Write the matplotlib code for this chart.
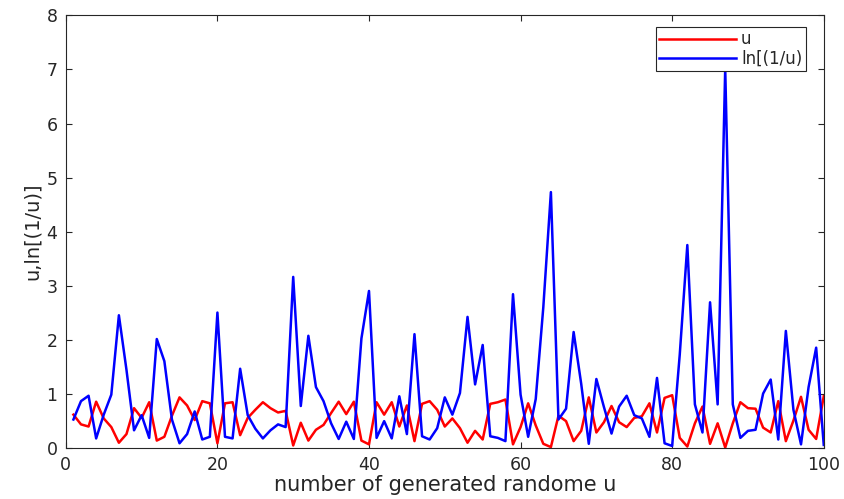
import matplotlib
matplotlib.use("Agg")
import matplotlib.pyplot as plt
import numpy as np

# index of each generated number
n = np.arange(1, 101)

# u values
u = [0.61, 0.43, 0.39, 0.85, 0.54, 0.38, 0.09, 0.25, 0.73, 0.55,
     0.84, 0.13, 0.20, 0.59, 0.93, 0.78, 0.51, 0.86, 0.82, 0.08,
     0.82, 0.84, 0.23, 0.55, 0.70, 0.84, 0.73, 0.65, 0.68, 0.04,
     0.46, 0.13, 0.33, 0.42, 0.64, 0.85, 0.62, 0.85, 0.13, 0.06,
     0.84, 0.61, 0.84, 0.39, 0.78, 0.12, 0.81, 0.86, 0.70, 0.39,
     0.54, 0.36, 0.09, 0.31, 0.15, 0.81, 0.84, 0.89, 0.06, 0.38,
     0.82, 0.41, 0.07, 0.01, 0.59, 0.49, 0.12, 0.31, 0.93, 0.28,
     0.47, 0.77, 0.47, 0.38, 0.55, 0.58, 0.82, 0.28, 0.92, 0.97,
     0.18, 0.02, 0.45, 0.76, 0.07, 0.45, 0.001, 0.45, 0.84, 0.73,
     0.72, 0.37, 0.28, 0.86, 0.12, 0.50, 0.94, 0.33, 0.16, 0.95]

# ln(1/u) values
lnu = [0.52, 0.86, 0.96, 0.17, 0.61, 0.98, 2.45, 1.44, 0.32, 0.60,
       0.18, 2.01, 1.60, 0.52, 0.08, 0.25, 0.67, 0.15, 0.20, 2.50,
       0.20, 0.17, 1.46, 0.60, 0.35, 0.17, 0.32, 0.43, 0.38, 3.16,
       0.77, 2.07, 1.12, 0.86, 0.45, 0.16, 0.48, 0.16, 2.02, 2.90,
       0.18, 0.49, 0.17, 0.95, 0.25, 2.10, 0.21, 0.15, 0.36, 0.93,
       0.61, 1.01, 2.42, 1.17, 1.90, 0.21, 0.18, 0.12, 2.84, 0.98,
       0.20, 0.90, 2.60, 4.73, 0.52, 0.72, 2.14, 1.18, 0.07, 1.27,
       0.75, 0.26, 0.76, 0.96, 0.60, 0.54, 0.20, 1.29, 0.08, 0.03,
       1.72, 3.75, 0.80, 0.28, 2.69, 0.80, 7.02, 0.80, 0.18, 0.31,
       0.33, 1.00, 1.26, 0.15, 2.16, 0.70, 0.06, 1.12, 1.85, 0.05]

plt.rcParams["font.family"] = ["DejaVu Sans"]
ink = "#262626"

fig = plt.figure(figsize=(8.44, 4.99), dpi=100)
ax = fig.add_axes([0.078, 0.103, 0.898, 0.866])

ax.plot(n, u, color="r", lw=1.8, label="u")
ax.plot(n, lnu, color="b", lw=1.8, label="ln[(1/u)")

ax.set_xlim(0, 100)
ax.set_ylim(0, 8)
ax.set_xticks(np.arange(0, 101, 20))
ax.set_yticks(np.arange(0, 9, 1))
ax.tick_params(direction="in", length=4, width=0.8, colors=ink,
               labelsize=12.5, top=True, right=True, pad=6)
for s in ax.spines.values():
    s.set_color(ink)
    s.set_linewidth(0.8)

ax.set_xlabel("number of generated randome u", fontsize=15, color=ink, labelpad=1)
ax.set_ylabel("u,ln[(1/u)]", fontsize=14, color=ink, labelpad=3)

leg = ax.legend(loc="upper right", bbox_to_anchor=(0.976, 0.973),
                borderaxespad=0, fontsize=12, handlelength=4.6,
                handletextpad=0.3, labelspacing=0.1, borderpad=0.2,
                fancybox=False, framealpha=1, edgecolor=ink)
leg.get_frame().set_linewidth(0.8)
for t in leg.get_texts():
    t.set_color(ink)

fig.savefig("out.png", dpi=100)
